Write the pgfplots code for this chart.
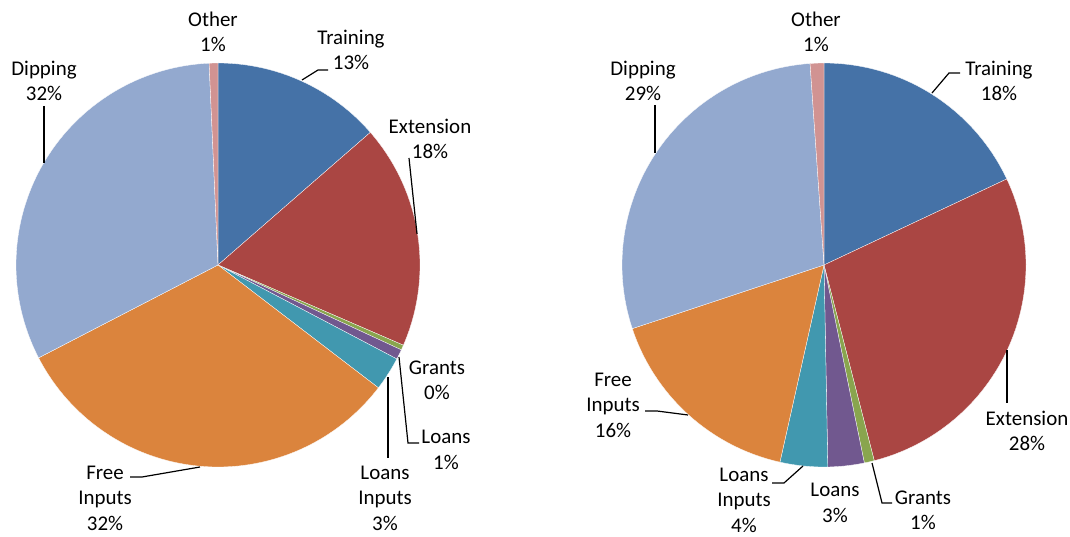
\documentclass[border=0pt]{standalone}
\usepackage{pgfplots}
\usepackage{pgfplotstable}
\pgfplotsset{compat=1.18}
\usepackage{fontspec}
\setmainfont{Carlito}

\definecolor{cTrain}{HTML}{4572A7}
\definecolor{cExt}{HTML}{AA4643}
\definecolor{cGrant}{HTML}{89A54E}
\definecolor{cLoan}{HTML}{71588F}
\definecolor{cLoanIn}{HTML}{4198AF}
\definecolor{cFree}{HTML}{DB843D}
\definecolor{cDip}{HTML}{93A9CF}
\definecolor{cOther}{HTML}{D19392}

\tikzset{lbl/.style={font=\fontsize{21}{25.5}\selectfont, align=center, inner sep=0pt}}

% slice shares in percent, clockwise from 12 o'clock
\pgfplotstableread{
name value color
Training 13.6 cTrain
Extension 17.9 cExt
Grants 0.4 cGrant
Loans 0.8 cLoan
LoansInputs 2.7 cLoanIn
FreeInputs 32.0 cFree
Dipping 31.9 cDip
Other 0.7 cOther
}\leftpie

\pgfplotstableread{
name value color
Training 18.0 cTrain
Extension 28.0 cExt
Grants 0.8 cGrant
Loans 2.9 cLoan
LoansInputs 3.8 cLoanIn
FreeInputs 16.4 cFree
Dipping 29.0 cDip
Other 1.1 cOther
}\rightpie

\newcommand{\drawpie}[4]{%
  \pgfplotstablegetrowsof{#1}%
  \pgfmathtruncatemacro\nrows{\pgfplotsretval-1}%
  \def\cum{0}%
  \pgfplotsforeachungrouped \i in {0,...,\nrows}{%
    \pgfplotstablegetelem{\i}{value}\of{#1}\let\sliceval\pgfplotsretval
    \pgfplotstablegetelem{\i}{color}\of{#1}\let\slicecolor\pgfplotsretval
    \pgfmathsetmacro\angA{3.6*\cum}%
    \pgfmathsetmacro\cum{\cum+\sliceval}%
    \pgfmathsetmacro\angB{3.6*\cum}%
    \edef\temp{\noexpand\addplot[fill=\slicecolor, draw=white, line width=0.3pt, domain=\angA:\angB, samples=90, variable=\noexpand\t]
      ({#2+#4*sin(\noexpand\t)}, {#3-#4*cos(\noexpand\t)}) -- (#2,#3) -- cycle;}%
    \temp
  }%
}

\begin{document}
\begin{tikzpicture}
\begin{axis}[
  name=ax,
  x=1bp, y=1bp, y dir=reverse,
  xmin=0, xmax=1070, ymin=0, ymax=537,
  enlargelimits=false,
  hide axis, clip=false,
]
\drawpie{\leftpie}{218}{265}{202}
\drawpie{\rightpie}{824}{265}{202}

% leader lines, left chart
\addplot[black, line width=1.2bp] coordinates {(302,80) (318,70) (328,70)};
\addplot[black, line width=1.2bp] coordinates {(417,234) (409,158)};
\addplot[black, line width=1.2bp] coordinates {(399,357) (408,443) (419,443)};
\addplot[black, line width=1.2bp] coordinates {(388,377) (388,458)};
\addplot[black, line width=1.2bp] coordinates {(130,477) (142,477) (200,467)};
\addplot[black, line width=1.2bp] coordinates {(44,106) (44,163)};
% leader lines, right chart
\addplot[black, line width=1.2bp] coordinates {(932,93) (949,73) (960,73)};
\addplot[black, line width=1.2bp] coordinates {(1007,350) (1007,403)};
\addplot[black, line width=1.2bp] coordinates {(872,463) (882,503) (892,503)};
\addplot[black, line width=1.2bp] coordinates {(772,483) (784,483) (803,466)};
\addplot[black, line width=1.2bp] coordinates {(645,411) (657,411) (688,415)};
\addplot[black, line width=1.2bp] coordinates {(655,105) (655,153)};

% labels, left chart
\node[lbl] at (axis cs:213,32) {Other\\1\%};
\node[lbl] at (axis cs:351,50) {Training\\13\%};
\node[lbl] at (axis cs:430,139) {Extension\\18\%};
\node[lbl] at (axis cs:437,380) {Grants\\0\%};
\node[lbl] at (axis cs:446,450) {Loans\\1\%};
\node[lbl] at (axis cs:385,498) {Loans\\Inputs\\3\%};
\node[lbl] at (axis cs:105,498) {Free\\Inputs\\32\%};
\node[lbl] at (axis cs:44,81) {Dipping\\32\%};
% labels, right chart
\node[lbl] at (axis cs:816,32) {Other\\1\%};
\node[lbl] at (axis cs:999,81) {Training\\18\%};
\node[lbl] at (axis cs:1027,431) {Extension\\28\%};
\node[lbl] at (axis cs:923,510) {Grants\\1\%};
\node[lbl] at (axis cs:835,503) {Loans\\3\%};
\node[lbl] at (axis cs:744,500) {Loans\\Inputs\\4\%};
\node[lbl] at (axis cs:613,405) {Free\\Inputs\\16\%};
\node[lbl] at (axis cs:643,81) {Dipping\\29\%};
\end{axis}
\pgfresetboundingbox
\path (ax.south west) rectangle (ax.north east);
\end{tikzpicture}
\end{document}
